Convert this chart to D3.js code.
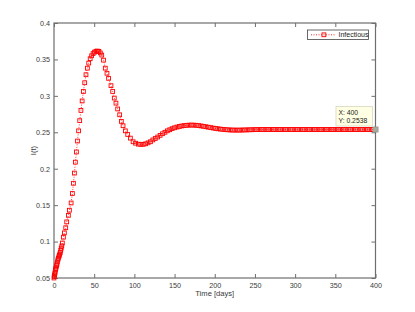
<!DOCTYPE html>
<html><head><meta charset="utf-8">
<script src="https://cdn.jsdelivr.net/npm/d3@7/dist/d3.min.js"></script>
<style>body{margin:0;background:#fff}svg{display:block}text{font-family:"Liberation Sans",Arial,sans-serif}</style>
</head><body><svg id="c" width="415" height="312"></svg>
<script>
const tDays = [0,0.3,0.6,1,1.4,1.8,2.2,2.7,3.2,3.7,4.2,4.8,5.4,6,6.6,7.2,7.8,8.4,9,9.7,10.4,
 11.7,12.9,14.6,15.8,17.9,19.2,21.3,22.9,24.2,25.4,26.6,27.9,29.2,30.6,32,33.5,35,36.6,38.2,39.8,41.5,43.2,45,46.8,48.6,50.4,52.2,54,55.8,57.6,59.4,
 61.6,63.8,65.9,67.9,70.9,73,75,77.1,79.2,81.7,83.8,85.9,88.8,91.7,95,98.4,101.5,105,108,111,114,117,120,123,126,129,132,135,138,141,144,147,150,153,156,159,162,165,168,171,174,177,180,183,186,189,192,195,198,201,204,207,210,213,216,219,222,225,228,231,234,237,240,243,246,249,252,
 255,258,261,264,267,270,273,276,279,282,285,288,291,294,297,300,303,306,309,312,315,318,321,324,327,330,333,336,339,342,345,348,351,354,357,360,363,366,369,372,375,378,381,384,387,390,393,396,400];
const infectious = [0.050,0.052,0.054,0.056,0.058,0.061,0.063,0.065,0.067,0.069,0.072,0.075,0.077,0.079,0.081,0.083,0.085,0.088,0.091,0.094,0.098,
 0.106,0.112,0.119,0.127,0.136,0.143,0.153,0.166,0.180,0.194,0.209,0.223,0.238,0.252,0.266,0.280,0.293,0.306,0.318,0.329,0.338,0.345,0.351,0.355,0.358,0.360,0.3612,0.3615,0.361,0.359,0.356,
 0.349,0.338,0.331,0.324,0.314,0.306,0.297,0.290,0.282,0.274,0.265,0.259,0.252,0.247,0.242,0.237,0.2350,0.2337,0.2334,0.2335,0.2342,0.2355,0.2370,0.2395,0.2415,0.2435,0.2458,0.2480,0.2500,0.2520,0.2535,0.2550,0.2562,0.2572,0.2580,0.2587,0.2592,0.2596,0.2598,0.2599,0.2598,0.2596,0.2592,0.2587,0.2582,0.2576,0.2570,0.2564,0.2558,0.2553,0.2548,0.2544,0.2540,0.2537,0.2534,0.2532,0.2531,0.2530,0.2530,0.2530,0.2531,0.2532,0.2533,0.2534,0.2535,0.2536,0.2537,
 0.2537,0.2538,0.2538,0.2538,0.2538,0.2538,0.2538,0.2538,0.2538,0.2538,0.2538,0.2538,0.2538,0.2538,0.2538,0.2538,0.2538,0.2538,0.2538,0.2538,0.2538,0.2538,0.2538,0.2538,0.2538,0.2538,0.2538,0.2538,0.2538,0.2538,0.2538,0.2538,0.2538,0.2538,0.2538,0.2538,0.2538,0.2538,0.2538,0.2538,0.2538,0.2538,0.2538,0.2538,0.2538,0.2538,0.2538,0.2538,0.2538];
const xTicks = [0,50,100,150,200,250,300,350,400];
const yTicks = [0.05,0.1,0.15,0.2,0.25,0.3,0.35,0.4];
const yTickLabels = ["0.05","0.1","0.15","0.2","0.25","0.3","0.35","0.4"];
const seriesName = "Infectious";
const tipX = 400, tipY = 0.2538;

const svg = d3.select("#c");
const L=54, R=375.5, T=23, B=278;
const x = d3.scaleLinear().domain([0,400]).range([L,R]);
const y = d3.scaleLinear().domain([0.05,0.4]).range([B,T]);
const axisCol = "#6e6e6e", txtCol = "#3a3a3a";
const data = tDays.map((t,i)=>({t, v: infectious[i]}));

svg.append("rect").attr("x",L).attr("y",T).attr("width",R-L).attr("height",B-T)
  .attr("fill","none").attr("stroke",axisCol).attr("stroke-width",1.2);

const fmtY = d => yTickLabels[yTicks.indexOf(d)];
const ax = (g, axis) => { g.call(axis); g.select(".domain").remove();
  g.selectAll("line").attr("stroke",axisCol).attr("stroke-width",1);
  g.selectAll("text").attr("fill",txtCol).style("font-size","7.2px"); };
svg.append("g").attr("transform",`translate(0,${B})`).call(g=>ax(g,d3.axisBottom(x).tickValues(xTicks).tickSizeInner(-4).tickSizeOuter(0).tickPadding(4.5).tickFormat(d3.format("d"))));
svg.append("g").attr("transform",`translate(0,${T})`).call(g=>ax(g,d3.axisTop(x).tickValues(xTicks).tickSizeInner(-4).tickSizeOuter(0).tickFormat("")));
svg.append("g").attr("transform",`translate(${L},0)`).call(g=>ax(g,d3.axisLeft(y).tickValues(yTicks).tickSizeInner(-4).tickSizeOuter(0).tickPadding(4).tickFormat(fmtY)));
svg.append("g").attr("transform",`translate(${R},0)`).call(g=>ax(g,d3.axisRight(y).tickValues(yTicks).tickSizeInner(-4).tickSizeOuter(0).tickFormat("")));

svg.append("path").datum(data).attr("fill","none").attr("stroke","#ff0000").attr("stroke-width",0.8)
  .attr("stroke-dasharray","1,1.5").attr("d",d3.line().x(d=>x(d.t)).y(d=>y(d.v)));
svg.append("g").selectAll("rect").data(data).join("rect")
  .attr("x",d=>x(d.t)-1.9).attr("y",d=>y(d.v)-1.9).attr("width",3.8).attr("height",3.8)
  .attr("fill","none").attr("stroke","#ff0000").attr("stroke-width",0.9);

svg.append("text").attr("x",(L+R)/2).attr("y",296).attr("text-anchor","middle").attr("fill",txtCol).style("font-size","7.6px").text("Time [days]");
svg.append("text").attr("transform",`translate(36,${(T+B)/2}) rotate(-90)`).attr("text-anchor","middle").attr("fill",txtCol).style("font-size","7.6px").text("I(t)");

const lg = svg.append("g");
lg.append("rect").attr("x",307.5).attr("y",30).attr("width",61).attr("height",9.5).attr("fill","#fff").attr("stroke","#444").attr("stroke-width",0.8);
lg.append("line").attr("x1",311).attr("x2",336).attr("y1",34.8).attr("y2",34.8).attr("stroke","#ff0000").attr("stroke-width",0.8).attr("stroke-dasharray","1,1.5");
lg.append("rect").attr("x",322).attr("y",32.9).attr("width",3.8).attr("height",3.8).attr("fill","none").attr("stroke","#ff0000").attr("stroke-width",0.9);
lg.append("text").attr("x",338.5).attr("y",37.3).attr("fill","#222").style("font-size","7px").text(seriesName);

const tp = svg.append("g");
tp.append("rect").attr("x",336).attr("y",106.5).attr("width",36.5).attr("height",19.5).attr("fill","#ffffe4").attr("stroke","#d8d6c0").attr("stroke-width",0.8);
tp.append("text").attr("x",338.5).attr("y",114.5).attr("fill","#222").style("font-size","6.8px").text("X: " + tipX);
tp.append("text").attr("x",338.5).attr("y",123).attr("fill","#222").style("font-size","6.8px").text("Y: " + tipY);
tp.append("rect").attr("x",x(tipX)-2.6).attr("y",y(tipY)-2.6).attr("width",5.2).attr("height",5.2).attr("fill","#a8aaa0").attr("stroke","#8a8c84").attr("stroke-width",0.6);
</script></body></html>
